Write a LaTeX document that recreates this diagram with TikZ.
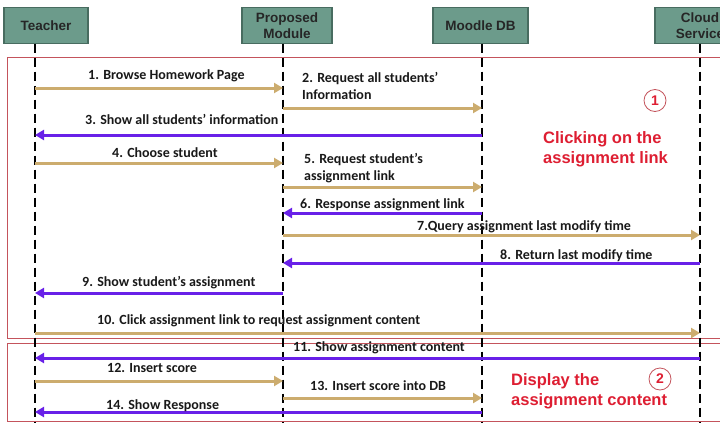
\documentclass[tikz,border=0pt]{standalone}
\usepackage{fontspec}
\setmainfont{Liberation Sans}
\newfontfamily\lblfont{Carlito}
\usetikzlibrary{arrows.meta}
\definecolor{hdrfill}{RGB}{108,155,139}
\definecolor{hdrdraw}{RGB}{72,108,96}
\definecolor{goldc}{RGB}{204,172,110}
\definecolor{purp}{RGB}{104,32,232}
\definecolor{framec}{RGB}{196,84,92}
\definecolor{redtxt}{RGB}{222,30,50}
\begin{document}
\begin{tikzpicture}[x=1pt,y=-1pt,
 hdr/.style={draw=hdrdraw, line width=1.5pt, fill=hdrfill, font=\fontsize{13.5}{16}\selectfont\bfseries, text=black!85, align=center, inner sep=0pt, minimum height=36pt},
 life/.style={line width=1.6pt, dash pattern=on 9pt off 5pt},
 frame/.style={draw=framec, line width=0.8pt},
 msgg/.style={draw=goldc, line width=3pt, -{Triangle[length=9pt,width=10pt]}},
 msgp/.style={draw=purp, line width=3pt, -{Triangle[length=9pt,width=10pt]}},
 lbl/.style={font=\lblfont\fontsize{14}{17}\selectfont\bfseries, anchor=base west, inner sep=0pt, text=black!90},
 lblm/.style={font=\lblfont\fontsize{14}{17}\selectfont\bfseries, anchor=north west, inner sep=0pt, align=left, text=black!90},
 note/.style={text=redtxt, font=\fontsize{16.5}{20}\selectfont\bfseries, anchor=north west, inner sep=0pt, align=left},
 num/.style={circle, draw=framec, line width=0.8pt, minimum size=22pt, inner sep=0pt, text=redtxt, font=\fontsize{14}{14}\selectfont\bfseries}]
\clip (0,0) rectangle (720,423);
\fill[white] (0,0) rectangle (720,423);
% frames
\draw[frame] (7,57) rectangle (730,338);
\draw[frame] (7,343) rectangle (730,421.5);
% headers
\node[hdr, minimum width=84pt] (teacher) at (46,25.5) {Teacher};
\node[hdr, minimum width=90pt] (module) at (287,25.5) {Proposed\\Module};
\node[hdr, minimum width=95pt] (moodle) at (480.5,25.5) {Moodle DB};
\node[hdr, minimum width=90pt] (cloud) at (700,25.5) {Cloud\\Service};
% lifelines
\coordinate (lT) at (35,43.5);
\coordinate (lP) at (283,43.5);
\coordinate (lM) at (482,43.5);
\coordinate (lC) at (700,43.5);
\foreach \c in {lT,lP,lM,lC} \draw[life] (\c) -- (\c |- 0,423);
% messages
\draw[msgg] (lT |- 0,88) -- (lP |- 0,88);
\draw[msgg] (lP |- 0,108) -- (lM |- 0,108);
\draw[msgp] (lM |- 0,135) -- (lT |- 0,135);
\draw[msgg] (lT |- 0,163) -- (lP |- 0,163);
\draw[msgg] (lP |- 0,187) -- (lM |- 0,187);
\draw[msgp] (lM |- 0,213) -- (lP |- 0,213);
\draw[msgg] (lP |- 0,235) -- (lC |- 0,235);
\draw[msgp] (lC |- 0,263) -- (lP |- 0,263);
\draw[msgp] (lP |- 0,293) -- (lT |- 0,293);
\draw[msgg] (lT |- 0,333) -- (lC |- 0,333);
\draw[msgp] (lC |- 0,358) -- (lT |- 0,358);
\draw[msgg] (lT |- 0,381) -- (lP |- 0,381);
\draw[msgg] (lP |- 0,398) -- (lM |- 0,398);
\draw[msgp] (lM |- 0,412) -- (lT |- 0,412);
% labels
\node[lbl] (m1) at (88,79) {1. Browse Homework Page};
\node[lblm] (m2) at (302,72) {2. Request all students’\\Information};
\node[lbl] (m3) at (85,124) {3. Show all students’ information};
\node[lbl] (m4) at (112,157) {4. Choose student};
\node[lblm] (m5) at (304,153) {5. Request student’s\\assignment link};
\node[lbl] (m6) at (300,208) {6. Response assignment link};
\node[lbl] (m7) at (417,230) {7.Query assignment last modify time};
\node[lbl] (m8) at (500,259) {8. Return last modify time};
\node[lbl] (m9) at (82,286) {9. Show student’s assignment};
\node[lbl] (m10) at (97,324) {10. Click assignment link to request assignment content};
\node[lbl] (m11) at (293,351) {11. Show assignment content};
\node[lbl] (m12) at (107,372) {12. Insert score};
\node[lbl] (m13) at (310,390) {13. Insert score into DB};
\node[lbl] (m14) at (106,409) {14. Show Response};
% notes
\node[note] (n1) at (543,131) {Clicking on the\\assignment link};
\node[note] (n2) at (511,373) {Display the\\assignment content};
\node[num] (c1) at (655,100.5) {1};
\node[num] (c2) at (660,379) {2};
\end{tikzpicture}
\end{document}
